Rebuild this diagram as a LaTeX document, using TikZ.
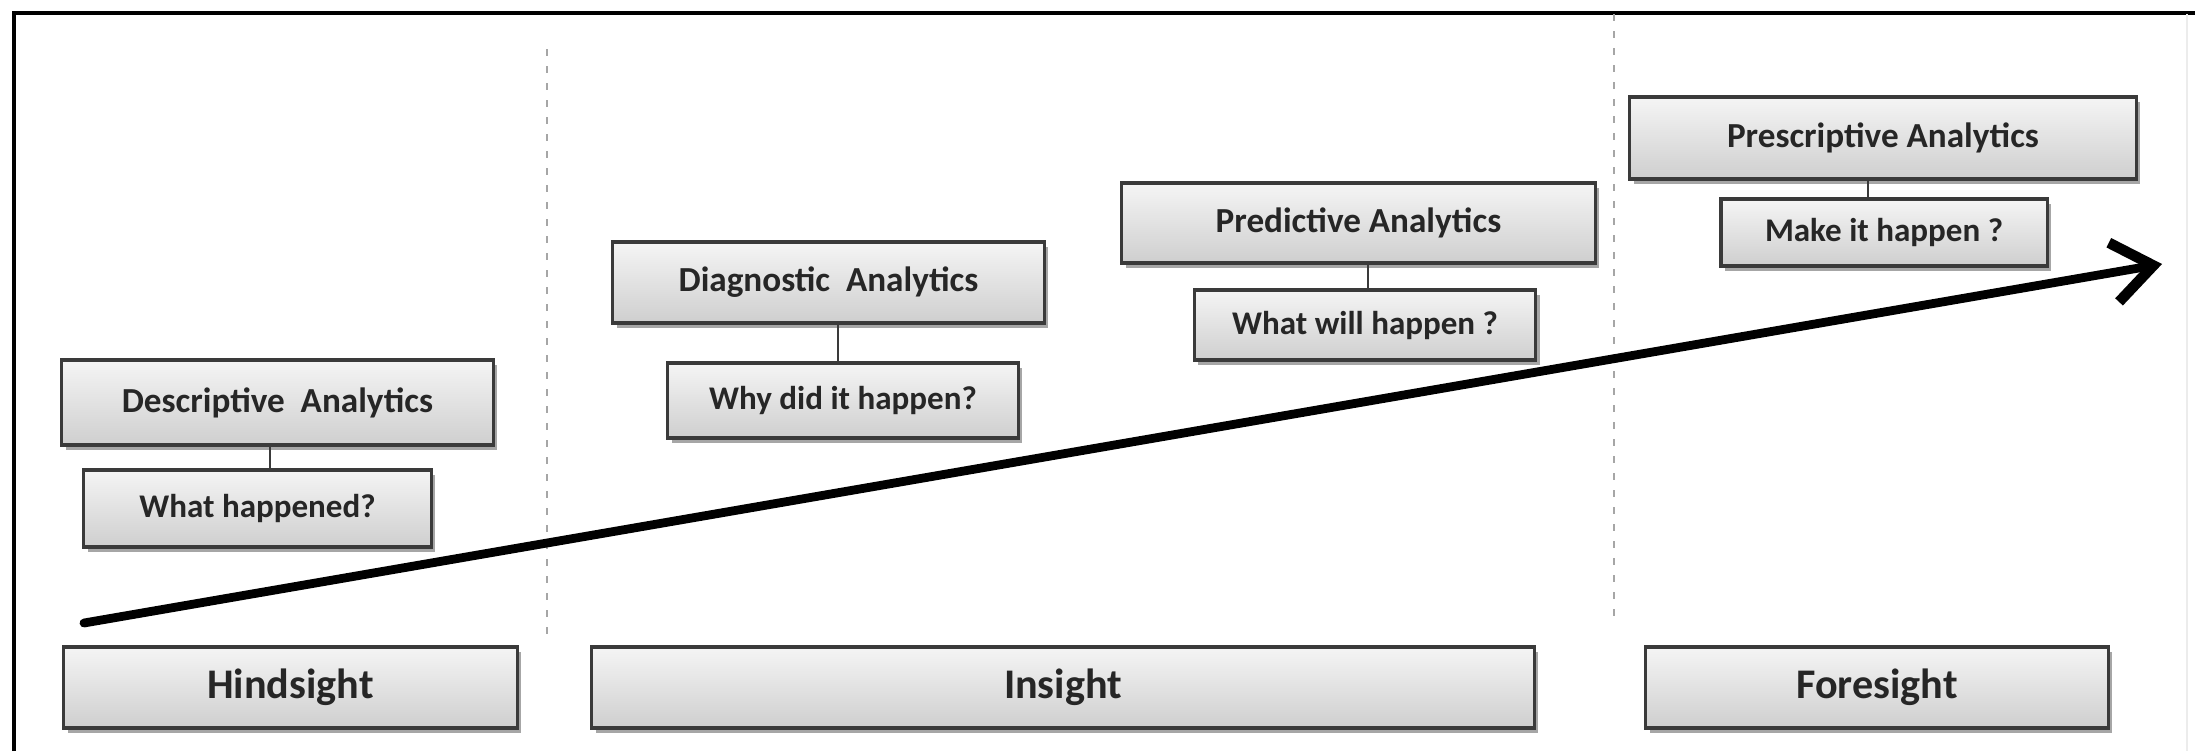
\documentclass[tikz,border=0pt]{standalone}
\usepackage{fontspec}
\setmainfont{Carlito}
\usetikzlibrary{shadows,arrows.meta}
\definecolor{boxline}{HTML}{3A3A3A}
\definecolor{txt}{HTML}{262626}
\tikzset{
  box/.style={draw=boxline, line width=0.9pt, inner sep=0pt,
    top color=gray!8, bottom color=gray!38, shading angle=0,
    drop shadow={shadow xshift=0.04cm, shadow yshift=-0.05cm, opacity=0.35, fill=black},
    font=\bfseries\fontsize{10}{12}\selectfont, text=txt},
  subbox/.style={box, font=\bfseries\fontsize{9.4}{12}\selectfont},
  bigbox/.style={box, font=\bfseries\fontsize{12}{14}\selectfont},
  link/.style={draw=boxline, line width=0.7pt},
  sep/.style={draw=gray!70, line width=0.7pt, dash pattern=on 0.07cm off 0.1cm},
  frame/.style={draw=black, line width=1pt},
  trend/.style={draw=black, line width=2.5pt, line cap=round,
    -{Straight Barb[length=0.4cm,width=0.6cm,line width=3pt]}}
}
\begin{document}
\begin{tikzpicture}[x=0.01cm,y=-0.01cm]
\useasboundingbox (0,0) rectangle (2195,751);
\fill[white] (0,0) rectangle (2195,751);
% frame
\coordinate (fTL) at (14,13);
\coordinate (fTR) at (2195,13);
\coordinate (fBL) at (14,751);
\draw[frame] (fBL) -- (fTL) -- (fTR);
\coordinate (rT) at (2187,14);
\coordinate (rB) at (2187,751);
\draw[draw=gray!15, line width=0.6pt] (rT) -- (rB);
% separators
\coordinate (s1T) at (547,49);
\coordinate (s1B) at (547,644);
\coordinate (s2T) at (1614,14);
\coordinate (s2B) at (1614,616);
\draw[sep] (s1T) -- (s1B);
\draw[sep] (s2T) -- (s2B);
% bottom boxes
\node[bigbox, minimum width=4.53cm, minimum height=0.81cm] (hind) at (290.5,687.5) {Hindsight};
\node[bigbox, minimum width=9.42cm, minimum height=0.81cm] (ins) at (1063,687.5) {Insight};
\node[bigbox, minimum width=4.62cm, minimum height=0.81cm] (fore) at (1877,687.5) {Foresight};
% trend arrow
\coordinate (aS) at (84,623);
\coordinate (aE) at (2162,264);
\draw[trend] (aS) -- (aE);
% descriptive
\node[box, minimum width=4.31cm, minimum height=0.85cm] (desc) at (277.5,402.5) {Descriptive\ \ Analytics};
\node[subbox, minimum width=3.47cm, minimum height=0.77cm] (descq) at (257.5,508.5) {What happened?};
\coordinate (c1) at (270,0);
\draw[link] (desc.south -| c1) -- (descq.north -| c1);
% diagnostic
\node[box, minimum width=4.31cm, minimum height=0.81cm] (diag) at (828.5,282.5) {Diagnostic\ \ Analytics};
\node[subbox, minimum width=3.50cm, minimum height=0.75cm] (diagq) at (843,400.5) {Why did it happen?};
\coordinate (c2) at (838,0);
\draw[link] (diag.south -| c2) -- (diagq.north -| c2);
% predictive
\node[box, minimum width=4.73cm, minimum height=0.80cm] (pred) at (1358.5,223) {Predictive Analytics};
\node[subbox, minimum width=3.41cm, minimum height=0.70cm] (predq) at (1365,325) {What will happen ?};
\coordinate (c3) at (1368,0);
\draw[link] (pred.south -| c3) -- (predq.north -| c3);
% prescriptive
\node[box, minimum width=5.06cm, minimum height=0.82cm] (pres) at (1883,138) {Prescriptive Analytics};
\node[subbox, minimum width=3.26cm, minimum height=0.67cm] (presq) at (1884,232.5) {Make it happen ?};
\coordinate (c4) at (1868,0);
\draw[link] (pres.south -| c4) -- (presq.north -| c4);
\end{tikzpicture}
\end{document}
